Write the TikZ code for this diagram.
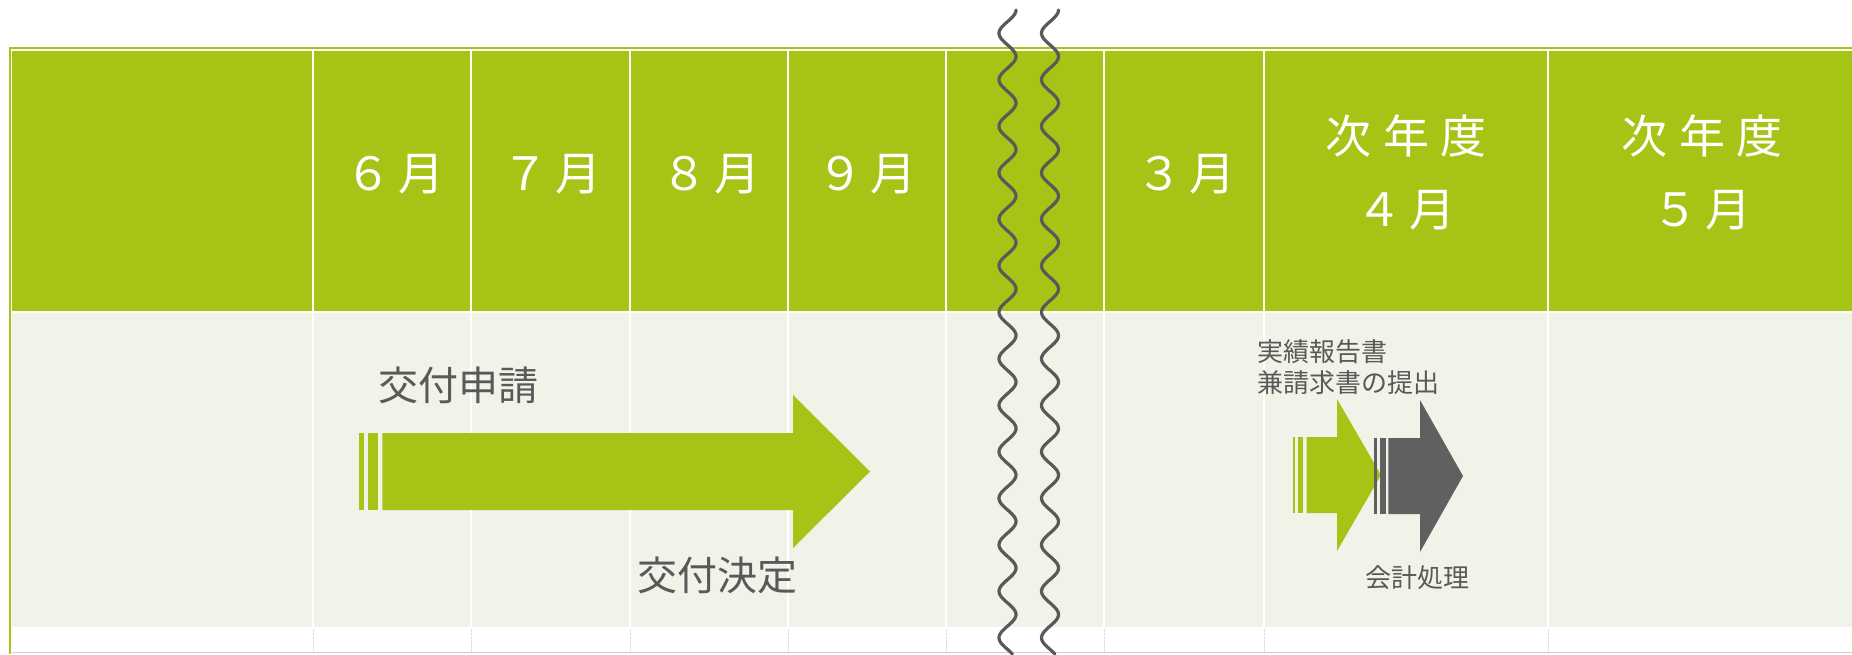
\documentclass[tikz,border=0pt]{standalone}
\usepackage{fontspec}
\setmainfont{Noto Sans CJK JP}
\definecolor{hdrgreen}{RGB}{165,196,21}
\definecolor{bodybg}{RGB}{240,243,231}
\definecolor{txtgray}{RGB}{89,89,89}
\definecolor{darkarrow}{RGB}{96,96,96}
\definecolor{rulegray}{RGB}{208,208,208}
\tikzset{
  month/.style={text=white, inner sep=0pt, align=center,
    font=\fontsize{46}{73}\selectfont\addfontfeature{LetterSpace=15}},
  biglabel/.style={text=txtgray, inner sep=0pt, font=\fontsize{40}{48}\selectfont},
  smalllabel/.style={text=txtgray, inner sep=0pt, font=\fontsize{26}{31}\selectfont}
}
\begin{document}
\begin{tikzpicture}[x=1pt,y=-1pt]
        \useasboundingbox (0,0) rectangle (1852,654);
        \fill[white] (0,0) rectangle (1852,654);
        % table
        \fill[hdrgreen] (12,51) rectangle (1860,311);
        \fill[bodybg] (12,313) rectangle (1860,627);
        \draw[hdrgreen, line width=2] (9.5,654) -- (9.5,48) -- (1860,48);
        \draw[rulegray, line width=1.5] (10,652.5) -- (1860,652.5);
        \foreach \x in {313,471,630,788,946,1104,1264,1548}{
          \draw[white, line width=2.5] (\x,51) -- (\x,627);
          \draw[rulegray, densely dotted, line width=0.8] (\x,629) -- (\x,651);
        }
        \draw[white, line width=2.5] (12,312) -- (1860,312);

        \node[month] (m6) at (395,174) {６月};
        \node[month] (m7) at (552,174) {７月};
        \node[month] (m8) at (711,174) {８月};
        \node[month] (m9) at (867,174) {９月};
        \node[month] (m3) at (1186,174) {３月};
        \node[month] (m4) at (1406,172) {{\addfontfeature{LetterSpace=25}次年度}\\４月};
        \node[month] (m5) at (1702,172) {{\addfontfeature{LetterSpace=25}次年度}\\５月};

        % big arrow
        \fill[hdrgreen] (358.7,433) rectangle (364,510);
        \fill[hdrgreen] (367.7,433) rectangle (378.3,510);
        \fill[hdrgreen] (382.3,433) -- (793,433) -- (793,395) -- (870,471.5)
          -- (793,548) -- (793,510) -- (382.3,510) -- cycle;
        \node[biglabel] (apply) at (458,385) {交付申請};
        \node[biglabel] (decide) at (717,575) {交付決定};

        % small arrows
        \fill[hdrgreen] (1292.7,437) rectangle (1295.3,513);
        \fill[hdrgreen] (1297.7,437) rectangle (1303.3,513);
        \fill[hdrgreen] (1306.7,437) -- (1337,437) -- (1337,399) -- (1381,475)
          -- (1337,551) -- (1337,513) -- (1306.7,513) -- cycle;
        \fill[darkarrow] (1374.3,438) rectangle (1377.3,514);
        \fill[darkarrow] (1380,438) rectangle (1386,514);
        \fill[darkarrow] (1388.3,438) -- (1420,438) -- (1420,400) -- (1463,476)
          -- (1420,552) -- (1420,514) -- (1388.3,514) -- cycle;
        \node[smalllabel, align=left, anchor=west] (report) at (1257,367) {実績報告書\\兼請求書の提出};
        \node[smalllabel] (acct) at (1417,578) {会計処理};

        % break marks
        \foreach \cx in {1007.5,1050}
          \draw[txtgray, line width=3.2, line cap=round]
            plot[domain=10:654, samples=400, smooth] ({\cx+8.5*cos((\x-10)*7.742)},\x);

      \end{tikzpicture}
\end{document}
